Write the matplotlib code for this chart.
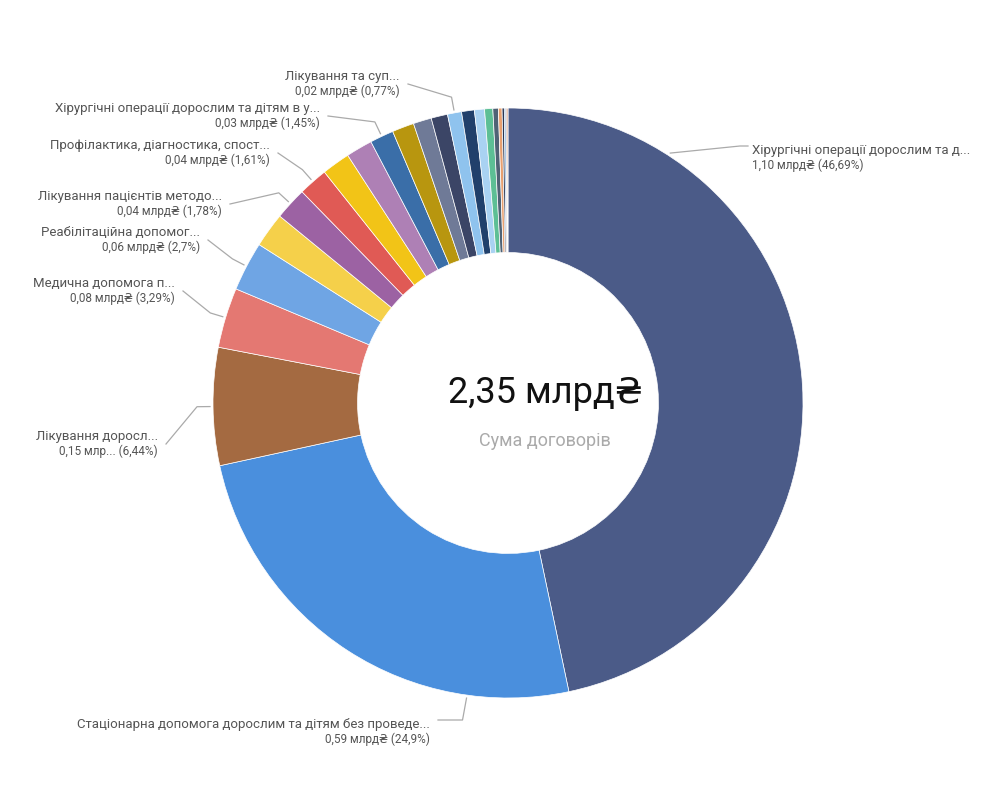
import numpy as np
import matplotlib.pyplot as plt

plt.rcParams['font.family'] = ['Roboto', 'DejaVu Sans']

values = [46.69, 24.9, 6.44, 3.29, 2.7, 1.9, 1.78, 1.61, 1.55, 1.45, 1.3, 1.2, 1.0, 0.9, 0.77,
          0.7, 0.55, 0.45, 0.3, 0.2, 0.12, 0.08, 0.06, 0.06]
colors = ['#4b5b88', '#4a8fdd', '#a46a41', '#e47872', '#6fa5e4', '#f5d04a', '#9c62a3', '#e05a55',
          '#f2c417', '#ae80b5', '#3a6ea8', '#b8960f', '#6f7a97', '#3b4566', '#8fc3ee', '#21406b',
          '#a9d2f2', '#5dbf95', '#4f6275', '#e8a070', '#2a3550', '#3d84c9', '#8a5a4a', '#d07a50']

labels = {0: ("Хірургічні операції дорослим та д...", "1,10 млрд₴ (46,69%)", 752, 158, 'left'),
          1: ("Стаціонарна допомога дорослим та дітям без проведе...", "0,59 млрд₴ (24,9%)", 430, 732, 'right'),
          2: ("Лікування доросл...", "0,15 млр... (6,44%)", 158, 444, 'right'),
          3: ("Медична допомога п...", "0,08 млрд₴ (3,29%)", 175, 291, 'right'),
          4: ("Реабілітаційна допомог...", "0,06 млрд₴ (2,7%)", 200, 240, 'right'),
          6: ("Лікування пацієнтів методо...", "0,04 млрд₴ (1,78%)", 222, 204, 'right'),
          7: ("Профілактика, діагностика, спост...", "0,04 млрд₴ (1,61%)", 270, 153, 'right'),
          10: ("Хірургічні операції дорослим та дітям в у...", "0,03 млрд₴ (1,45%)", 320, 116, 'right'),
          14: ("Лікування та суп...", "0,02 млрд₴ (0,77%)", 400, 84, 'right')}
# leader angles (deg, clockwise from top) for the two big slices
leader_angle = {0: 33, 1: 188}

H = 800
cx, cy, R = 508, 800 - 403, 295

fig = plt.figure(figsize=(9.98, 8.0), dpi=100)
ax = fig.add_axes([0, 0, 1, 1])
ax.axis('off')

ax.pie(values, colors=colors, startangle=90, counterclock=False, center=(cx, cy), radius=R,
       wedgeprops=dict(width=R * 0.49, edgecolor='white', linewidth=0.5))
ax.set_xlim(0, 998)
ax.set_ylim(0, 800)
ax.set_aspect('equal')

cum = np.cumsum([0] + values)
tot = sum(values)
for i, (l1, l2, tx, ty, ha) in labels.items():
    mid = 90 - 360 * (cum[i] + cum[i + 1]) / 2 / tot
    if i in leader_angle:
        mid = 90 - leader_angle[i]
    a = np.radians(mid)
    x0, y0 = cx + (R + 3) * np.cos(a), cy + (R + 3) * np.sin(a)
    ty_d = H - ty
    if i == 0:
        pts = ([x0, tx - 12, tx - 4], [y0, ty_d + 12, ty_d + 12])
    elif i == 1:
        pts = ([x0, x0 - 4, tx + 8], [y0, ty_d + 12, ty_d + 12])
    else:
        x1, y1 = cx + (R + 16) * np.cos(a), cy + (R + 16) * np.sin(a)
        pts = ([x0, x1, tx + 8], [y0, y1, ty_d])
    ax.plot(pts[0], pts[1], color='#aaaaaa', lw=0.9)
    ax.text(tx, ty_d + 1, l1, ha=ha, va='bottom', fontsize=9.5, color='#555555')
    ax.text(tx, ty_d - 1, l2, ha=ha, va='top', fontsize=8.5, color='#555555')

ax.text(cx + 37, cy + 10, "2,35 млрд₴", ha='center', va='center', fontsize=26, color='#111111')
ax.text(cx + 37, cy - 38, "Сума договорів", ha='center', va='center', fontsize=13, color='#aaaaaa')

fig.savefig('out.png')
